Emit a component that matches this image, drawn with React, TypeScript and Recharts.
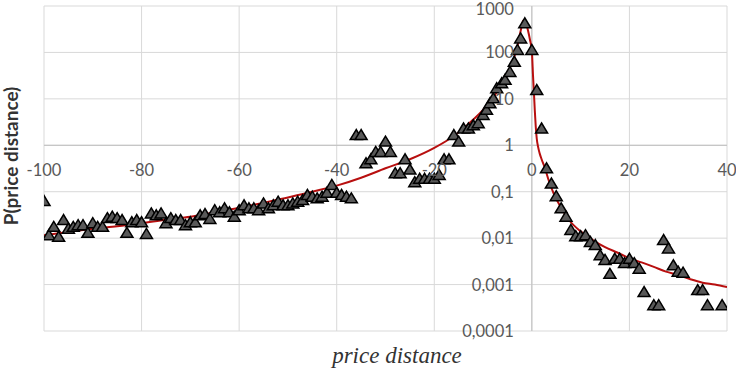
import { ComposedChart, Scatter, Line, XAxis, YAxis, CartesianGrid, ReferenceLine } from 'recharts';

// observed points (price distance, probability)
const scatterX = [
  -100, -99, -98, -97, -96, -95, -94, -93, -92, -91, -90, -89, -88, -87, -86, -85, -84, -83, -82, -81,
  -80, -79, -78, -77, -76, -75, -74, -73, -72, -71, -70, -69, -68, -67, -66, -65, -64, -63, -62, -61,
  -60, -59, -58, -57, -56, -55, -54, -53, -52, -51, -50, -49, -48, -47, -46, -45, -44, -43, -42, -41,
  -40, -39, -38, -37, -36, -35, -34, -33, -32, -31, -30, -29, -28, -27, -26, -25, -24, -23, -22, -21,
  -20, -19, -18, -17, -16, -15, -14, -13, -12, -11, -10, -9.3, -8.6, -7.9, -7.2, -6.2, -5.5, -4.5, -3.6, -2.95,
  -2.3, -1.45, 0, 1, 2, 3, 4, 5, 6, 7, 8, 9, 10, 11, 12, 13, 14, 15, 16, 17,
  18, 19, 20, 21, 22, 23, 25, 26, 27, 28, 29, 30, 31, 34, 35, 36, 39,
];
const scatterY = [
  0.063, 0.0116, 0.0175, 0.0107, 0.0245, 0.016, 0.0175, 0.019, 0.019, 0.013, 0.021, 0.0175, 0.0175, 0.027, 0.029, 0.027, 0.0245, 0.013, 0.022, 0.0245,
  0.022, 0.0123, 0.034, 0.031, 0.034, 0.021, 0.027, 0.0245, 0.0245, 0.019, 0.022, 0.022, 0.031, 0.033, 0.026, 0.04, 0.036, 0.044, 0.036, 0.029,
  0.04, 0.051, 0.044, 0.044, 0.04, 0.056, 0.044, 0.051, 0.061, 0.051, 0.051, 0.056, 0.061, 0.066, 0.085, 0.078, 0.072, 0.078, 0.095, 0.14,
  0.095, 0.085, 0.078, 0.072, 1.66, 1.66, 0.41, 0.5, 0.72, 0.72, 1.2, 0.72, 0.25, 0.25, 0.5, 0.3, 0.16, 0.19, 0.19, 0.19,
  0.19, 0.23, 0.5, 0.5, 1.66, 1.2, 2.3, 2.3, 2.7, 3.0, 4.5, 5.8, 8, 10.3, 17, 21.6, 25.7, 38, 63, 113,
  200, 424, 113, 15.5, 2.3, 0.32, 0.15, 0.08, 0.044, 0.029, 0.015, 0.011, 0.011, 0.0116, 0.0083, 0.0071, 0.0043, 0.0034, 0.0017, 0.0036,
  0.0036, 0.0029, 0.0036, 0.0029, 0.0022, 0.00069, 0.00036, 0.00036, 0.0091, 0.006, 0.0026, 0.0019, 0.0018, 0.00076, 0.00076, 0.00036, 0.00036,
];

// fitted curve
const trendX = [
  -100, -95, -90, -85, -80, -75, -70, -65, -60, -55, -50, -45, -40, -35, -30, -25, -20, -17, -14, -12,
  -10, -8, -7, -6, -5, -4, -3, -2.5, -2, -1.8, -1.5, -1.2, -0.8, -0.4, 0, 0.25, 0.45, 0.6, 0.8, 1,
  1.3, 1.6, 2, 2.6, 3.5, 4.5, 6, 7.7, 10, 12.5, 15, 17.5, 20, 22.5, 25, 27.5, 30, 32.5, 35, 37.5, 40,
];
const trendY = [
  0.0116, 0.0135, 0.016, 0.018, 0.021, 0.025, 0.029, 0.036, 0.045, 0.058, 0.075, 0.1, 0.135, 0.2, 0.32, 0.5, 0.88, 1.35, 2.3, 3.6,
  5.8, 10.5, 15, 22, 36, 62, 130, 230, 400, 480, 500, 440, 300, 190, 105, 30, 12, 5.7, 2.5, 1.4,
  0.9, 0.67, 0.5, 0.34, 0.17, 0.09, 0.045, 0.024, 0.014, 0.0091, 0.0064, 0.0049, 0.0037, 0.003, 0.0024, 0.0019, 0.0016, 0.0013, 0.0011, 0.001, 0.00088,
];

const xTicks = [-100, -80, -60, -40, -20, 0, 20, 40];
const yTicks = [0.0001, 0.001, 0.01, 0.1, 1, 10, 100, 1000];
const yTickLabels = ['0,0001', '0,001', '0,01', '0,1', '1', '10', '100', '1000'];

const scatterData = scatterX.map((x, i) => ({ x, y: scatterY[i] }));
const trendData = trendX.map((x, i) => ({ x, y: trendY[i] }));

const W = 736;
const H = 370;
const yAxisW = 30;
const xAxisH = 30;
// plot area runs 44..727 horizontally and 6..331 vertically
const margin = { top: 6, right: 9, bottom: 39 - xAxisH, left: 44 - yAxisW };
const plotLeft = 44;
const plotTop = 6;
const plotW = W - plotLeft - margin.right;
const plotH = H - plotTop - 39;
const xMin = -100;
const xMax = 40;
const yMin = 0.0001;
const yMax = 1000;

// where the axes cross: x = 0 and y = 1
const zeroX = plotLeft + (plotW * (0 - xMin)) / (xMax - xMin);
const oneY =
  plotTop + (plotH * (Math.log10(yMax) - Math.log10(1))) / (Math.log10(yMax) - Math.log10(yMin));

const tickFont = { fill: '#595959', fontSize: 16.5, fontFamily: 'Lato' };

const XTick = (props: any) => {
  const { x, payload } = props;
  return (
    <text x={x} y={oneY + 25} textAnchor="middle" dominantBaseline="central" {...tickFont}>
      {payload.value}
    </text>
  );
};

const YTick = (props: any) => {
  const { y, payload } = props;
  const i = yTicks.indexOf(payload.value);
  // keep the top label inside the picture
  const ty = Math.max(y, 9);
  return (
    <text x={zeroX - 18} y={ty} textAnchor="end" dominantBaseline="central" {...tickFont}>
      {yTickLabels[i]}
    </text>
  );
};

const Tri = (props: any) => {
  const { cx, cy } = props;
  if (cx == null || cy == null) return null;
  return (
    <polygon
      points={`${cx},${cy - 5.5} ${cx - 6},${cy + 4.5} ${cx + 6},${cy + 4.5}`}
      fill="#595959"
      stroke="#000"
      strokeWidth={1.5}
    />
  );
};

export default function App() {
  return (
    <div style={{ position: 'absolute', left: 0, top: 0 }}>
      <ComposedChart width={W} height={H} margin={margin}>
        <CartesianGrid stroke="#d9d9d9" />
        <XAxis
          type="number"
          dataKey="x"
          domain={[xMin, xMax]}
          ticks={xTicks}
          allowDataOverflow
          axisLine={false}
          tickLine={false}
          height={xAxisH}
          tick={XTick}
          interval={0}
        />
        <YAxis
          type="number"
          dataKey="y"
          scale="log"
          domain={[yMin, yMax]}
          ticks={yTicks}
          allowDataOverflow
          axisLine={false}
          tickLine={false}
          width={yAxisW}
          tick={YTick}
          interval={0}
        />
        <ReferenceLine x={0} stroke="#bfbfbf" />
        <ReferenceLine y={1} stroke="#bfbfbf" />
        <Scatter data={scatterData} dataKey="y" shape={<Tri />} isAnimationActive={false} />
        <Line
          data={trendData}
          dataKey="y"
          type="monotone"
          stroke="#b80f0f"
          strokeWidth={2}
          dot={false}
          activeDot={false}
          isAnimationActive={false}
        />
        <text
          x={10}
          y={156}
          transform="rotate(-90 10 156)"
          textAnchor="middle"
          dominantBaseline="central"
          fontFamily="Lato"
          fontWeight="bold"
          fontSize={19}
          fill="#333333"
        >
          P(price distance)
        </text>
        <text
          x={397}
          y={363}
          textAnchor="middle"
          fontFamily="Liberation Serif"
          fontStyle="italic"
          fontSize={23}
          fill="#333333"
        >
          price distance
        </text>
      </ComposedChart>
    </div>
  );
}
